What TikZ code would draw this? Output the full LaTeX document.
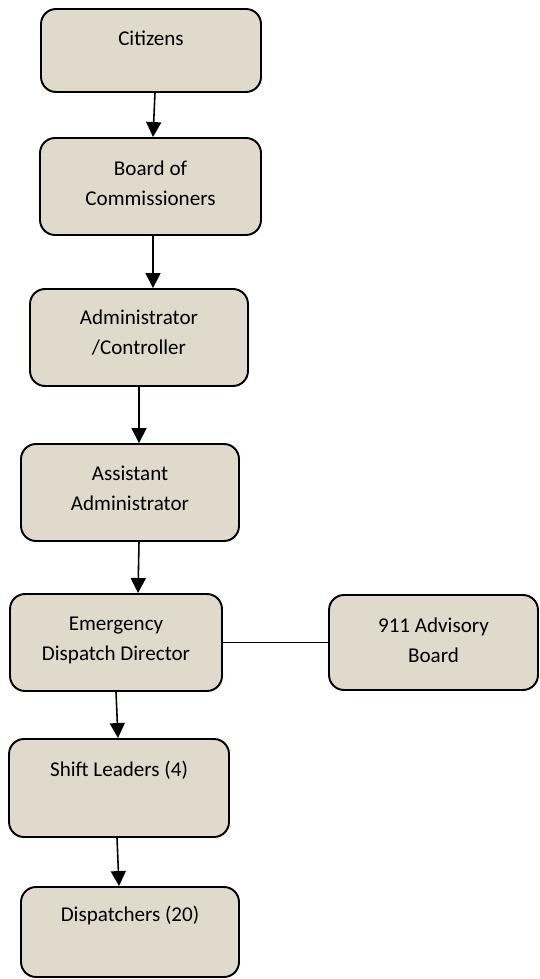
\documentclass[tikz,border=0pt]{standalone}
\usepackage{fontspec}
\setmainfont{Carlito}
\usepackage{xcolor}
\usepackage{tikz}
\usetikzlibrary{arrows.meta,positioning,calc}

\definecolor{boxfill}{RGB}{224,218,205}

\begin{document}
\begin{tikzpicture}[
    x=0.02cm, y=-0.02cm,
    box/.style={rectangle, draw, line width=1.1pt, rounded corners=0.3cm,
                fill=boxfill, inner sep=0pt},
    txt/.style={align=center, inner sep=0pt,
                font=\fontsize{12}{17}\selectfont},
    arr/.style={-{Triangle[length=0.3cm, width=0.3cm]}, line width=0.9pt},
    link/.style={line width=0.8pt},
  ]
  \useasboundingbox (0,0) rectangle (539,979);

  % ===== Boxes =====
  \node[box, minimum width=4.40cm, minimum height=1.66cm] (cit)   at (151,50.5)  {};
  \node[box, minimum width=4.42cm, minimum height=1.94cm] (board) at (150.5,186.5) {};
  \node[box, minimum width=4.36cm, minimum height=1.94cm] (admin) at (139,337.5) {};
  \node[box, minimum width=4.36cm, minimum height=1.94cm] (asst)  at (130,492.5) {};
  \node[box, minimum width=4.24cm, minimum height=1.94cm] (edd)   at (116,642.5) {};
  \node[box, minimum width=4.18cm, minimum height=1.90cm] (adv)   at (433.5,642.5) {};
  \node[box, minimum width=4.40cm, minimum height=1.96cm] (shift) at (119,788)   {};
  \node[box, minimum width=4.36cm, minimum height=1.80cm] (disp)  at (130,932)   {};

  % ===== Labels =====
  \node[txt] (citt)   at (151,38)   {Citizens};
  \node[txt] (boardt) at (150.5,183) {Board of\\Commissioners};
  \node[txt] (admint) at (139,333)  {Administrator\\/Controller};
  \node[txt] (asstt)  at (130,488)  {Assistant\\Administrator};
  \node[txt] (eddt)   at (116,640)  {Emergency\\Dispatch Director};
  \node[txt] (advt)   at (433.5,640) {911 Advisory\\Board};
  \node[txt] (shiftt) at (119,770)  {Shift Leaders (4)};
  \node[txt] (dispt)  at (130,915)  {Dispatchers (20)};

  % ===== Connectors =====
  \draw[arr] ($(cit.south)+(4,0)$)    -- ($(board.north)+(2.5,0)$);
  \draw[arr] ($(board.south)+(2.5,0)$) -- ($(admin.north)+(14,0)$);
  \draw[arr] (admin.south)             -- ($(asst.north)+(9,0)$);
  \draw[arr] ($(asst.south)+(9,0)$)   -- ($(edd.north)+(22,0)$);
  \draw[arr] (edd.south)               -- ($(shift.north)+(-1,0)$);
  \draw[arr] ($(shift.south)+(-2,0)$) -- ($(disp.north)+(-11,0)$);
  \draw[link] (edd.east) -- (adv.west);

\end{tikzpicture}
\end{document}
